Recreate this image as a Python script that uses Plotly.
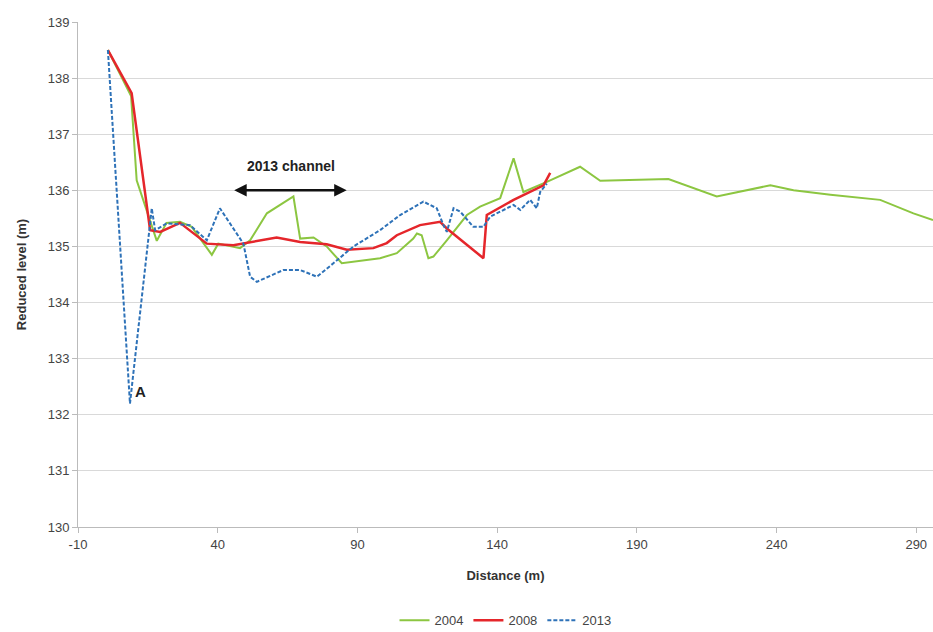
import plotly.graph_objects as go

# Cross-section survey profiles: distance along section (m) and reduced level (m)
dist_2004 = [0.7, 9.0, 11.0, 18.2, 21.7, 26.5, 30.7, 37.9, 40.2, 48.0, 51.6, 57.6, 67.1,
             69.5, 74.3, 79.0, 84.4, 98.1, 104.1, 110.0, 111.3, 113.0, 115.4, 117.2, 122.0,
             129.2, 133.9, 141.1, 145.9, 149.4, 157.8, 169.7, 176.9, 201.3, 218.6, 237.8,
             246.1, 259.3, 277.1, 289.0, 296.0]
level_2004 = [138.5, 137.68, 136.18, 135.1, 135.42, 135.44, 135.35, 134.85, 135.05, 134.97,
              135.11, 135.59, 135.89, 135.14, 135.16, 135.0, 134.7, 134.79, 134.88, 135.14,
              135.23, 135.2, 134.79, 134.82, 135.11, 135.56, 135.71, 135.86, 136.57, 135.97,
              136.15, 136.42, 136.17, 136.2, 135.89, 136.09, 136.0, 135.92, 135.83, 135.59,
              135.47]

dist_2008 = [0.7, 9.2, 15.8, 19.4, 26.5, 36.1, 45.6, 61.1, 69.5, 79.0, 86.2, 95.7, 100.5,
             104.1, 112.4, 119.6, 122.0, 135.1, 136.3, 145.9, 156.6, 159.0]
level_2008 = [138.5, 137.73, 135.29, 135.26, 135.42, 135.05, 135.02, 135.16, 135.08, 135.04,
              134.94, 134.97, 135.06, 135.2, 135.38, 135.44, 135.32, 134.79, 135.56, 135.83,
              136.09, 136.31]

dist_2013 = [0.7, 8.6, 16.4, 17.6, 21.7, 30.1, 36.1, 40.8, 49.2, 51.6, 54.0, 63.5, 69.5,
             75.5, 81.4, 88.6, 98.1, 105.3, 113.6, 118.4, 120.8, 122.0, 124.4, 126.8, 131.5,
             135.1, 137.5, 145.9, 148.3, 151.8, 154.2, 155.4, 157.8]
level_2013 = [138.5, 132.2, 135.68, 135.29, 135.41, 135.38, 135.11, 135.68, 135.05, 134.46,
              134.37, 134.58, 134.58, 134.46, 134.7, 135.0, 135.29, 135.56, 135.8, 135.68,
              135.38, 135.26, 135.68, 135.62, 135.35, 135.35, 135.53, 135.74, 135.65, 135.83,
              135.68, 135.97, 136.12]

channel_start, channel_end, channel_level = 45.9, 86.7, 136.0

x_ticks = [-10, 40, 90, 140, 190, 240, 290]
x_tick_text = ["-10", "40", "90", "140", "190", "240", "290"]
y_ticks = [130, 131, 132, 133, 134, 135, 136, 137, 138, 139]

font_family = "Liberation Sans Narrow, Liberation Sans, Arial, sans-serif"

fig = go.Figure()
fig.add_trace(go.Scatter(x=dist_2004, y=level_2004, mode="lines", name="2004",
                         line=dict(color="#8CC641", width=2)))
fig.add_trace(go.Scatter(x=dist_2008, y=level_2008, mode="lines", name="2008",
                         line=dict(color="#E5262B", width=2.5)))
fig.add_trace(go.Scatter(x=dist_2013, y=level_2013, mode="lines", name="2013",
                         line=dict(color="#2E72B8", width=2, dash="4px,2px")))

# double-headed arrow marking the 2013 channel
fig.add_annotation(x=channel_start, y=channel_level, ax=channel_end, ay=channel_level,
                   xref="x", yref="y", axref="x", ayref="y", text="",
                   showarrow=True, arrowhead=2, arrowside="end+start",
                   arrowsize=1, arrowwidth=2.5, arrowcolor="#111111")
fig.add_annotation(x=(channel_start + channel_end) / 2, y=channel_level + 0.25,
                   text="<b>2013 channel</b>", showarrow=False, yanchor="bottom",
                   font=dict(size=14, color="#222222", family=font_family))
fig.add_annotation(x=dist_2013[1] + 1.2, y=level_2013[1] + 0.22, text="<b>A</b>",
                   showarrow=False, xanchor="left",
                   font=dict(size=15, color="#222222", family=font_family))

fig.update_layout(
    width=933, height=632,
    margin=dict(l=78, r=0, t=22, b=105, autoexpand=False),
    paper_bgcolor="white", plot_bgcolor="white",
    font=dict(family=font_family, size=13, color="#444444"),
    showlegend=True,
    legend=dict(orientation="h", x=0.5, xanchor="center", y=-0.155, yanchor="top",
                font=dict(size=13, color="#444444")),
    xaxis=dict(range=[-10, 296], tickmode="array", tickvals=x_ticks, ticktext=x_tick_text,
               showgrid=False, zeroline=False, showline=True, linecolor="#BBBBBB",
               ticks="outside", ticklen=5, tickcolor="#BBBBBB", automargin=False,
               title=dict(text="<b>Distance (m)</b>", font=dict(size=13, color="#333333"),
                          standoff=20)),
    yaxis=dict(range=[130, 139], tickmode="array", tickvals=y_ticks,
               showgrid=True, gridcolor="#D9D9D9", gridwidth=1, zeroline=False,
               showline=True, linecolor="#BBBBBB", ticks="outside", ticklen=5,
               tickcolor="#BBBBBB", automargin=False,
               title=dict(text="<b>Reduced level (m)</b>", font=dict(size=13, color="#333333"),
                          standoff=18)),
)

fig.write_html("out.html")
